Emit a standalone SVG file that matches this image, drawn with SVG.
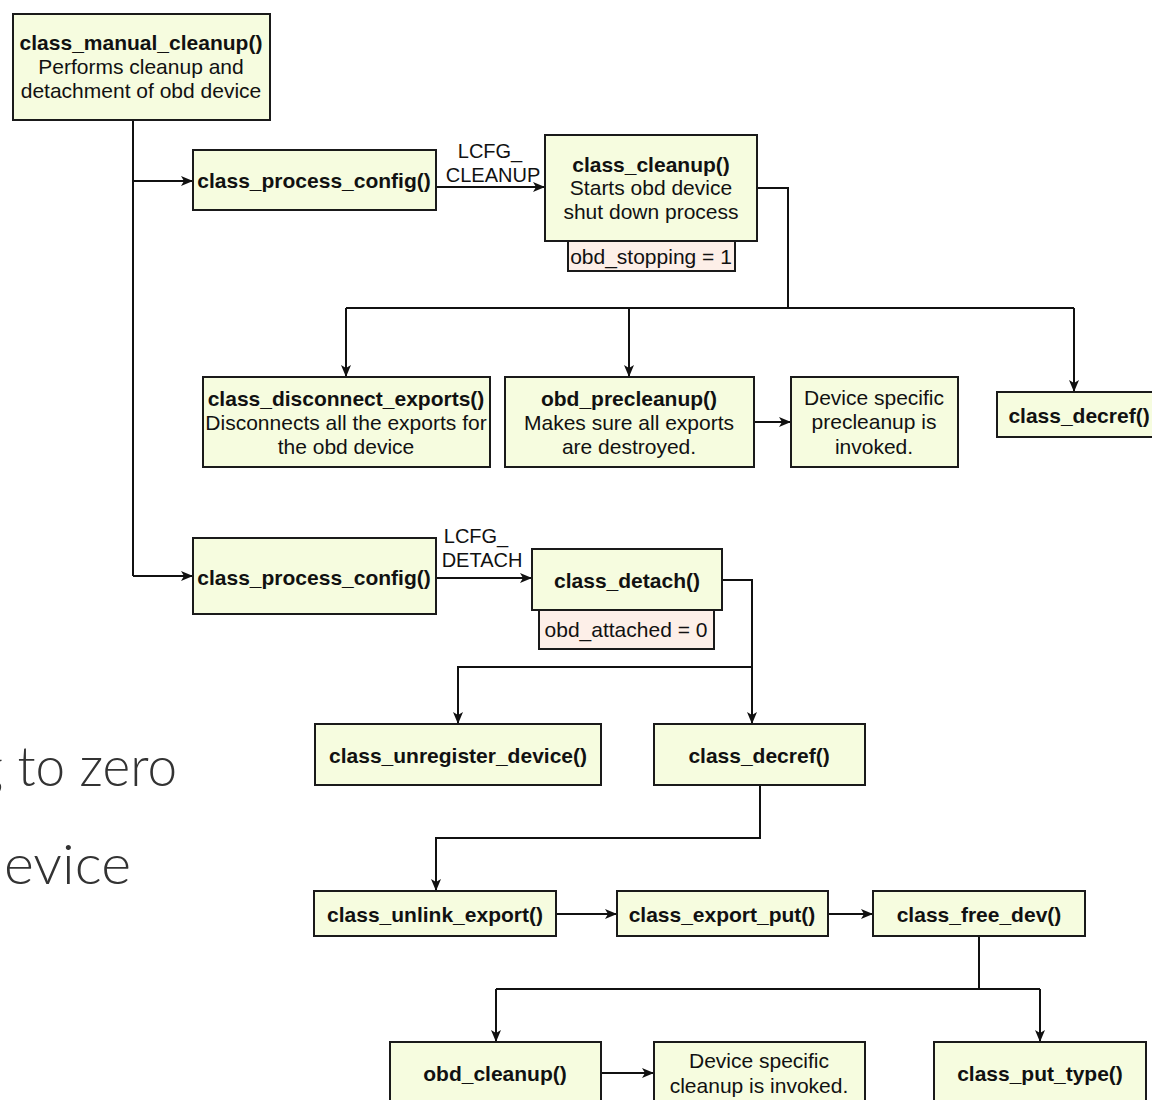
<svg xmlns="http://www.w3.org/2000/svg" width="1152" height="1100" viewBox="0 0 1152 1100">
<defs>
<style>
.box{fill:#f6fcdf;stroke:#1a1a1a;stroke-width:2}
.pink{fill:#fdefe8;stroke:#1a1a1a;stroke-width:2}
.t{font-family:"Liberation Sans",Arial,sans-serif;font-size:21px;fill:#111;text-anchor:middle}
.b{font-weight:bold}
.lbl{font-family:"Liberation Sans",Arial,sans-serif;font-size:20px;fill:#111;text-anchor:middle}
.big{font-family:Lato,"Open Sans",sans-serif;font-weight:300;font-size:56px;fill:#333}
.c{fill:none;stroke:#111;stroke-width:2}
</style>
<marker id="ar" viewBox="0 0 12 10" refX="11" refY="5" markerWidth="12" markerHeight="10" markerUnits="userSpaceOnUse" orient="auto">
<path d="M0,0 L12,5 L0,10 L3,5 Z" fill="#111"/>
</marker>
</defs>
<rect width="1152" height="1100" fill="#fff"/>

<text class="big" x="-24" y="786" textLength="201" lengthAdjust="spacingAndGlyphs">g to zero</text>
<text class="big" x="4" y="884" textLength="127" lengthAdjust="spacingAndGlyphs">evice</text>

<g id="connectors">
<path class="c" d="M133,120 V576"/>
<path class="c" d="M133,181 H192" marker-end="url(#ar)"/>
<path class="c" d="M133,576 H192" marker-end="url(#ar)"/>
<path class="c" d="M436,187 H544" marker-end="url(#ar)"/>
<text class="lbl" x="490" y="158">LCFG_</text>
<text class="lbl" x="493" y="182">CLEANUP</text>
<path class="c" d="M757,188 H788 V308"/>
<path class="c" d="M346,308 H1074"/>
<path class="c" d="M346,308 V376" marker-end="url(#ar)"/>
<path class="c" d="M629,308 V376" marker-end="url(#ar)"/>
<path class="c" d="M1074,308 V391" marker-end="url(#ar)"/>
<path class="c" d="M754,422 H790" marker-end="url(#ar)"/>
<path class="c" d="M436,578 H531" marker-end="url(#ar)"/>
<text class="lbl" x="476" y="543">LCFG_</text>
<text class="lbl" x="482" y="567">DETACH</text>
<path class="c" d="M722,580 H752 V723" marker-end="url(#ar)"/>
<path class="c" d="M752,667 H458 V723" marker-end="url(#ar)"/>
<path class="c" d="M760,785 V838 H436 V890" marker-end="url(#ar)"/>
<path class="c" d="M556,914 H616" marker-end="url(#ar)"/>
<path class="c" d="M828,914 H872" marker-end="url(#ar)"/>
<path class="c" d="M979,936 V989"/>
<path class="c" d="M496,989 H1040"/>
<path class="c" d="M496,989 V1041" marker-end="url(#ar)"/>
<path class="c" d="M1040,989 V1041" marker-end="url(#ar)"/>
<path class="c" d="M601,1073 H653" marker-end="url(#ar)"/>
</g>

<g id="class_manual_cleanup">
<rect class="box" x="13" y="14" width="257" height="106"/>
<text class="t b" x="141" y="50">class_manual_cleanup()</text>
<text class="t" x="141" y="74">Performs cleanup and</text>
<text class="t" x="141" y="98">detachment of obd device</text>
</g>
<g id="class_process_config_1">
<rect class="box" x="193" y="150" width="243" height="60"/>
<text class="t b" x="314" y="188">class_process_config()</text>
</g>
<g id="class_cleanup">
<rect class="box" x="545" y="135" width="212" height="106"/>
<text class="t b" x="651" y="172">class_cleanup()</text>
<text class="t" x="651" y="195">Starts obd device</text>
<text class="t" x="651" y="219">shut down process</text>
</g>
<g id="obd_stopping">
<rect class="pink" x="568" y="241" width="167" height="30"/>
<text class="t" x="651" y="264">obd_stopping = 1</text>
</g>
<g id="class_disconnect_exports">
<rect class="box" x="203" y="377" width="287" height="90"/>
<text class="t b" x="346" y="406">class_disconnect_exports()</text>
<text class="t" x="346" y="430">Disconnects all the exports for</text>
<text class="t" x="346" y="454">the obd device</text>
</g>
<g id="obd_precleanup">
<rect class="box" x="505" y="377" width="249" height="90"/>
<text class="t b" x="629" y="406">obd_precleanup()</text>
<text class="t" x="629" y="430">Makes sure all exports</text>
<text class="t" x="629" y="454">are destroyed.</text>
</g>
<g id="device_precleanup">
<rect class="box" x="791" y="377" width="167" height="90"/>
<text class="t" x="874" y="405">Device specific</text>
<text class="t" x="874" y="429">precleanup is</text>
<text class="t" x="874" y="454">invoked.</text>
</g>
<g id="class_decref_1">
<rect class="box" x="997" y="392" width="160" height="45"/>
<text class="t b" x="1079" y="423">class_decref()</text>
</g>
<g id="class_process_config_2">
<rect class="box" x="193" y="538" width="243" height="76"/>
<text class="t b" x="314" y="585">class_process_config()</text>
</g>
<g id="class_detach">
<rect class="box" x="532" y="549" width="190" height="61"/>
<text class="t b" x="627" y="588">class_detach()</text>
</g>
<g id="obd_attached">
<rect class="pink" x="539" y="610" width="175" height="39"/>
<text class="t" x="626" y="637">obd_attached = 0</text>
</g>
<g id="class_unregister_device">
<rect class="box" x="315" y="724" width="286" height="61"/>
<text class="t b" x="458" y="763">class_unregister_device()</text>
</g>
<g id="class_decref_2">
<rect class="box" x="654" y="724" width="211" height="61"/>
<text class="t b" x="759" y="763">class_decref()</text>
</g>
<g id="class_unlink_export">
<rect class="box" x="314" y="891" width="242" height="45"/>
<text class="t b" x="435" y="922">class_unlink_export()</text>
</g>
<g id="class_export_put">
<rect class="box" x="617" y="891" width="211" height="45"/>
<text class="t b" x="722" y="922">class_export_put()</text>
</g>
<g id="class_free_dev">
<rect class="box" x="873" y="891" width="212" height="45"/>
<text class="t b" x="979" y="922">class_free_dev()</text>
</g>
<g id="obd_cleanup">
<rect class="box" x="390" y="1042" width="211" height="70"/>
<text class="t b" x="495" y="1081">obd_cleanup()</text>
</g>
<g id="device_cleanup">
<rect class="box" x="654" y="1042" width="211" height="70"/>
<text class="t" x="759" y="1068">Device specific</text>
<text class="t" x="759" y="1093">cleanup is invoked.</text>
</g>
<g id="class_put_type">
<rect class="box" x="934" y="1042" width="212" height="70"/>
<text class="t b" x="1040" y="1081">class_put_type()</text>
</g>
</svg>
